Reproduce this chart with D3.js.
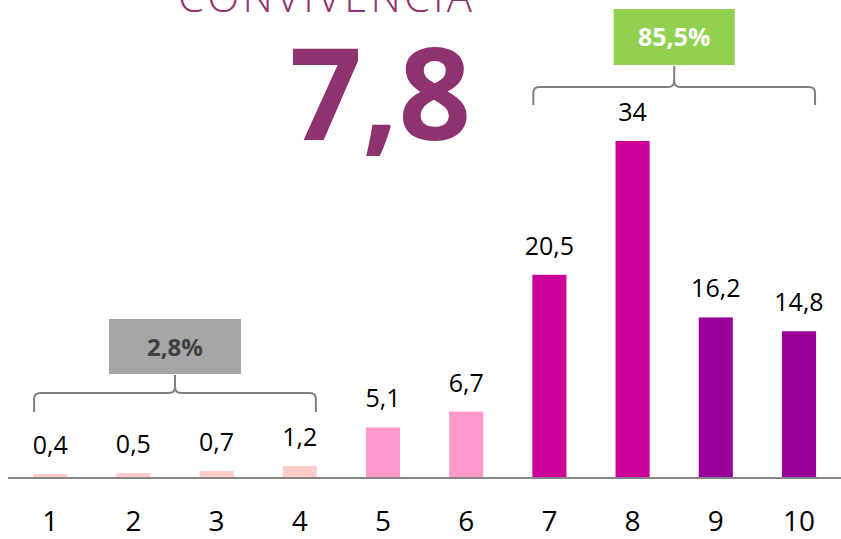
<!DOCTYPE html>
<html lang="es">
<head>
    <meta charset="UTF-8">
    <title>Convivencia</title>
    <script src="https://d3js.org/d3.v7.min.js"></script>
    <style>
        body { margin: 0; background: #fff; }
        svg { display: block; }
    </style>
</head>
<body>
<svg></svg>
<script>
    // data
    var categories = ["1", "2", "3", "4", "5", "6", "7", "8", "9", "10"];
    var values = [0.4, 0.5, 0.7, 1.2, 5.1, 6.7, 20.5, 34, 16.2, 14.8];
    var labels = ["0,4", "0,5", "0,7", "1,2", "5,1", "6,7", "20,5", "34", "16,2", "14,8"];
    var barColors = ["#FFCCCC", "#FFCCCC", "#FFCCCC", "#FFCCCC", "#FF99CC", "#FF99CC",
                     "#CC0099", "#CC0099", "#990099", "#990099"];
    var title = "CONVIVENCIA";
    var score = "7,8";
    // groups: first category, last category, label
    var groups = [
        {from: "1", to: "4", text: "2,8%", fill: "#A6A6A6", color: "#404040"},
        {from: "7", to: "10", text: "85,5%", fill: "#92D050", color: "#ffffff"}
    ];

    var width = 841, height = 539;
    var baseY = 478;
    var font = "'Open Sans', 'DejaVu Sans', sans-serif";

    var svg = d3.select("svg").attr("width", width).attr("height", height);

    var x = d3.scaleBand()
        .domain(categories)
        .range([8.6, 840.6])
        .paddingInner(0.59)
        .paddingOuter(0.295);

    var y = d3.scaleLinear()
        .domain([0, 34])
        .range([baseY, 141]);

    // bars
    svg.append("g")
        .selectAll("rect")
        .data(values)
        .enter()
        .append("rect")
        .attr("x", function(d, i){ return x(categories[i]); })
        .attr("y", function(d){ return y(d); })
        .attr("width", x.bandwidth())
        .attr("height", function(d){ return baseY - y(d); })
        .attr("fill", function(d, i){ return barColors[i]; });

    // value labels
    svg.append("g")
        .selectAll("text")
        .data(values)
        .enter()
        .append("text")
        .attr("x", function(d, i){ return x(categories[i]) + x.bandwidth() / 2; })
        .attr("y", function(d){ return y(d) - 20; })
        .attr("text-anchor", "middle")
        .attr("font-family", font)
        .attr("font-size", 25)
        .attr("fill", "#000")
        .text(function(d, i){ return labels[i]; });

    // axis
    var axis = svg.append("g")
        .attr("transform", "translate(0," + baseY + ")")
        .call(d3.axisBottom(x).tickSize(0).tickPadding(33));
    axis.select(".domain")
        .attr("d", "M8,0H841")
        .attr("stroke", "#868686")
        .attr("stroke-width", 2);
    axis.selectAll("text")
        .attr("font-family", font)
        .attr("font-size", 28)
        .attr("fill", "#000");

    // brackets with boxes
    function bracePath(x0, x1, yl, yEnd, yTop){
        var r = 6, xm = (x0 + x1) / 2;
        return "M" + x0 + "," + yEnd +
            "L" + x0 + "," + (yl + r) +
            "Q" + x0 + "," + yl + " " + (x0 + r) + "," + yl +
            "L" + (xm - r) + "," + yl +
            "Q" + xm + "," + yl + " " + xm + "," + (yl - r) +
            "L" + xm + "," + yTop +
            "M" + xm + "," + (yl - r) +
            "Q" + xm + "," + yl + " " + (xm + r) + "," + yl +
            "L" + (x1 - r) + "," + yl +
            "Q" + x1 + "," + yl + " " + x1 + "," + (yl + r) +
            "L" + x1 + "," + yEnd;
    }

    var groupY = [
        {line: 393, end: 412, top: 375, boxTop: 319, boxH: 55, boxW: 132, size: 24},
        {line: 87, end: 105, top: 66, boxTop: 9, boxH: 56, boxW: 121, size: 25}
    ];

    groups.forEach(function(g, i){
        var gy = groupY[i];
        var x0 = x(g.from) + 1;
        var x1 = x(g.to) + x.bandwidth() - 1;
        var xm = (x0 + x1) / 2;
        svg.append("path")
            .attr("d", bracePath(x0, x1, gy.line, gy.end, gy.top))
            .attr("fill", "none")
            .attr("stroke", "#7F7F7F")
            .attr("stroke-width", 2);
        svg.append("rect")
            .attr("x", xm - gy.boxW / 2)
            .attr("y", gy.boxTop)
            .attr("width", gy.boxW)
            .attr("height", gy.boxH)
            .attr("fill", g.fill);
        svg.append("text")
            .attr("x", xm)
            .attr("y", gy.boxTop + gy.boxH / 2 + 9)
            .attr("text-anchor", "middle")
            .attr("font-family", font)
            .attr("font-weight", "bold")
            .attr("font-size", gy.size)
            .attr("fill", g.color)
            .text(g.text);
    });

    // title (cut off at the top edge, as in the original) and score
    svg.append("text")
        .attr("x", 472)
        .attr("y", 12)
        .attr("text-anchor", "end")
        .attr("font-family", font)
        .attr("font-weight", 300)
        .attr("font-size", 42)
        .attr("textLength", 294)
        .attr("lengthAdjust", "spacing")
        .attr("fill", "#8F3370")
        .text(title);

    svg.append("text")
        .attr("x", 471)
        .attr("y", 140)
        .attr("text-anchor", "end")
        .attr("font-family", font)
        .attr("font-weight", "bold")
        .attr("font-size", 127)
        .attr("fill", "#8F3370")
        .text(score);
</script>
</body>
</html>
